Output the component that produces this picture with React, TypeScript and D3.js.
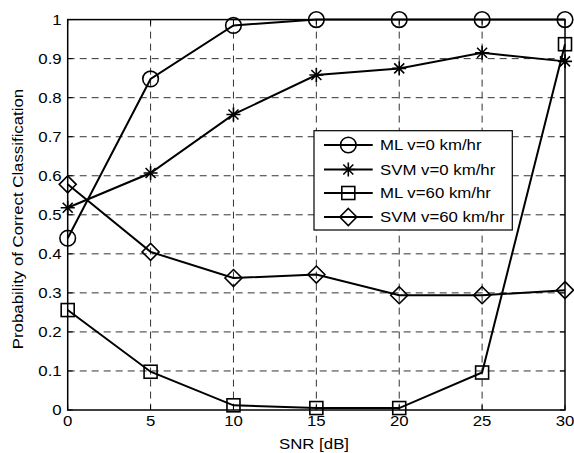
import React from "react";
import * as d3 from "d3";

const snr = [0, 5, 10, 15, 20, 25, 30];
const mlV0 = [0.44, 0.848, 0.985, 1.0, 1.0, 1.0, 1.0];
const svmV0 = [0.518, 0.607, 0.757, 0.858, 0.875, 0.915, 0.893];
const mlV60 = [0.256, 0.098, 0.012, 0.005, 0.005, 0.096, 0.937];
const svmV60 = [0.578, 0.405, 0.338, 0.347, 0.294, 0.294, 0.307];
const xTicks = [0, 5, 10, 15, 20, 25, 30];
const yTicks = [0, 0.1, 0.2, 0.3, 0.4, 0.5, 0.6, 0.7, 0.8, 0.9, 1];
const seriesNames = ["ML v=0 km/hr", "SVM v=0 km/hr", "ML v=60 km/hr", "SVM v=60 km/hr"];
const seriesKinds = ["circle", "star", "square", "diamond"];

const W = 574, H = 453;
const L = 67.7, R = 565, T = 19.6, B = 410;
const FONT = "Liberation Sans, Arial, sans-serif";
const SX = 1.2;

function Marker({ kind, x, y }: { kind: string; x: number; y: number }) {
  const sw = 1.6;
  if (kind === "circle") return <circle cx={x} cy={y} r={7.8} fill="none" stroke="#000" strokeWidth={sw} />;
  if (kind === "square") return <rect x={x - 6.5} y={y - 6.5} width={13} height={13} fill="none" stroke="#000" strokeWidth={sw} />;
  if (kind === "diamond") return <path d={`M${x},${y - 8.5}L${x + 8.5},${y}L${x},${y + 8.5}L${x - 8.5},${y}Z`} fill="none" stroke="#000" strokeWidth={sw} />;
  const s = 7, d = 5;
  return (
    <path
      d={`M${x - s},${y}L${x + s},${y}M${x},${y - s}L${x},${y + s}M${x - d},${y - d}L${x + d},${y + d}M${x - d},${y + d}L${x + d},${y - d}`}
      stroke="#000"
      strokeWidth={1.6}
      fill="none"
    />
  );
}

function SText({ x, y, anchor, children, rotate }: any) {
  const tr = rotate ? `translate(${x},${y}) rotate(-90) scale(${SX},1)` : `translate(${x},${y}) scale(${SX},1)`;
  return (
    <text transform={tr} textAnchor={anchor} fontFamily={FONT} fontSize={14} fill="#000">
      {children}
    </text>
  );
}

export default function App() {
  const x = d3.scaleLinear().domain([0, 30]).range([L, R]);
  const y = d3.scaleLinear().domain([0, 1]).range([B, T]);
  const data = [mlV0, svmV0, mlV60, svmV60];
  const line = d3
    .line<number>()
    .x((_, i) => x(snr[i]))
    .y((v) => y(v));

  const legX = 314, legY = 130.7, legW = 198.3, legH = 99.3;
  const rowY = [145, 169.5, 193, 217];

  return (
    <svg width={W} height={H} style={{ position: "absolute", left: 0, top: 0, background: "#fff" }}>
      <rect x={0} y={0} width={W} height={H} fill="#fff" />
      {/* grid */}
      {xTicks.slice(1, -1).map((t) => (
        <line key={"gx" + t} x1={x(t)} x2={x(t)} y1={T} y2={B} stroke="#333" strokeWidth={1} strokeDasharray="7,5" />
      ))}
      {yTicks.slice(1, -1).map((t) => (
        <line key={"gy" + t} x1={L} x2={R} y1={y(t)} y2={y(t)} stroke="#333" strokeWidth={1} strokeDasharray="7,5" />
      ))}
      {/* ticks */}
      {xTicks.map((t) => (
        <g key={"tx" + t}>
          <line x1={x(t)} x2={x(t)} y1={B} y2={B - 5} stroke="#000" />
          <line x1={x(t)} x2={x(t)} y1={T} y2={T + 5} stroke="#000" />
          <SText x={x(t)} y={B + 16} anchor="middle">{String(t)}</SText>
        </g>
      ))}
      {yTicks.map((t) => (
        <g key={"ty" + t}>
          <line x1={L} x2={L + 5} y1={y(t)} y2={y(t)} stroke="#000" />
          <line x1={R} x2={R - 5} y1={y(t)} y2={y(t)} stroke="#000" />
          <SText x={L - 6} y={y(t) + 5} anchor="end">{d3.format("~g")(t)}</SText>
        </g>
      ))}
      {/* series */}
      {data.map((s, k) => (
        <g key={"s" + k}>
          <path d={line(s) || ""} fill="none" stroke="#000" strokeWidth={2} />
          {s.map((v, i) => (
            <Marker key={i} kind={seriesKinds[k]} x={x(snr[i])} y={y(v)} />
          ))}
        </g>
      ))}
      {/* frame */}
      <rect x={L} y={T} width={R - L} height={B - T} fill="none" stroke="#000" strokeWidth={1.5} />
      {/* legend */}
      <rect x={legX} y={legY} width={legW} height={legH} fill="#fff" stroke="#000" strokeWidth={1.2} />
      {seriesNames.map((n, k) => (
        <g key={"l" + k}>
          <line x1={324} x2={372.7} y1={rowY[k]} y2={rowY[k]} stroke="#000" strokeWidth={2} />
          <Marker kind={seriesKinds[k]} x={348.3} y={rowY[k]} />
          <SText x={380} y={rowY[k] + 5} anchor="start">{n}</SText>
        </g>
      ))}
      {/* axis labels */}
      <SText x={314} y={449} anchor="middle">SNR [dB]</SText>
      <SText x={23} y={219} anchor="middle" rotate>Probability of Correct Classification</SText>
    </svg>
  );
}
